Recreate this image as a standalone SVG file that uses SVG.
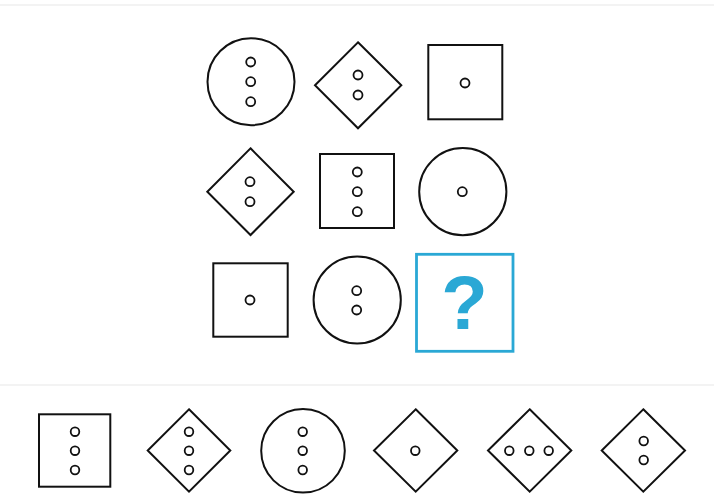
<svg xmlns="http://www.w3.org/2000/svg" width="714" height="501" viewBox="0 0 714 501">
<style>
.s{fill:none;stroke:#111;stroke-width:2}
.d{fill:none;stroke:#111;stroke-width:1.8}
.sep{stroke:#efefef;stroke-width:1.5}
.q{font-family:"Liberation Sans",Arial,sans-serif;font-weight:bold;font-size:76px;fill:#2aa8d5}
</style>
<rect width="714" height="501" fill="#fff"/>
<line class="sep" x1="0" y1="5" x2="714" y2="5"/>
<line class="sep" x1="0" y1="385" x2="714" y2="385"/>
<g id="r1c1"><circle class="s" cx="251" cy="81.7" r="43.5"/><circle class="d" cx="250.7" cy="62" r="4.5"/><circle class="d" cx="250.7" cy="81.7" r="4.5"/><circle class="d" cx="250.7" cy="101.7" r="4.5"/></g>
<g id="r1c2"><polygon class="s" points="358,42.3 401.3,85.3 358,128.3 315,85.3"/><circle class="d" cx="358" cy="75" r="4.5"/><circle class="d" cx="358" cy="95" r="4.5"/></g>
<g id="r1c3"><rect class="s" x="428.3" y="45" width="74" height="74.3"/><circle class="d" cx="465" cy="83" r="4.5"/></g>
<g id="r2c1"><polygon class="s" points="250.5,148.3 293.7,191.7 250.5,235 207.3,191.7"/><circle class="d" cx="250" cy="181.7" r="4.5"/><circle class="d" cx="250" cy="201.7" r="4.5"/></g>
<g id="r2c2"><rect class="s" x="320" y="154" width="74" height="74"/><circle class="d" cx="357.3" cy="172" r="4.5"/><circle class="d" cx="357.3" cy="191.7" r="4.5"/><circle class="d" cx="357.3" cy="211.7" r="4.5"/></g>
<g id="r2c3"><circle class="s" cx="462.8" cy="191.7" r="43.6"/><circle class="d" cx="462.3" cy="191.7" r="4.5"/></g>
<g id="r3c1"><rect class="s" x="213.3" y="263.3" width="74.4" height="73.4"/><circle class="d" cx="250" cy="300" r="4.5"/></g>
<g id="r3c2"><circle class="s" cx="357.2" cy="300" r="43.6"/><circle class="d" cx="356.7" cy="290.7" r="4.5"/><circle class="d" cx="356.7" cy="310" r="4.5"/></g>
<g id="r3c3"><rect x="416.5" y="254.3" width="96.5" height="97" fill="none" stroke="#2aa8d5" stroke-width="2.8"/><text class="q" x="464.5" y="329" text-anchor="middle">?</text></g>
<g id="opt1"><rect class="s" x="39" y="414.3" width="71.3" height="72.4"/><circle class="d" cx="75" cy="431.7" r="4.3"/><circle class="d" cx="75" cy="450.7" r="4.3"/><circle class="d" cx="75" cy="470" r="4.3"/></g>
<g id="opt2"><polygon class="s" points="189,409.3 230.3,450.5 189,491.7 147.7,450.5"/><circle class="d" cx="189" cy="431.7" r="4.3"/><circle class="d" cx="189" cy="450.7" r="4.3"/><circle class="d" cx="189" cy="470" r="4.3"/></g>
<g id="opt3"><circle class="s" cx="303" cy="450.8" r="41.8"/><circle class="d" cx="302.7" cy="431.7" r="4.3"/><circle class="d" cx="302.7" cy="450.7" r="4.3"/><circle class="d" cx="302.7" cy="470" r="4.3"/></g>
<g id="opt4"><polygon class="s" points="415.7,409.3 457.3,450.5 415.7,491.7 374,450.5"/><circle class="d" cx="415.3" cy="450.7" r="4.3"/></g>
<g id="opt5"><polygon class="s" points="529.7,409.3 571.3,450.5 529.7,491.7 488,450.5"/><circle class="d" cx="509.3" cy="450.7" r="4.3"/><circle class="d" cx="529.3" cy="450.7" r="4.3"/><circle class="d" cx="548.7" cy="450.7" r="4.3"/></g>
<g id="opt6"><polygon class="s" points="643.3,409.3 685,450.5 643.3,491.7 601.7,450.5"/><circle class="d" cx="643.7" cy="441" r="4.3"/><circle class="d" cx="643.7" cy="460" r="4.3"/></g>
</svg>
